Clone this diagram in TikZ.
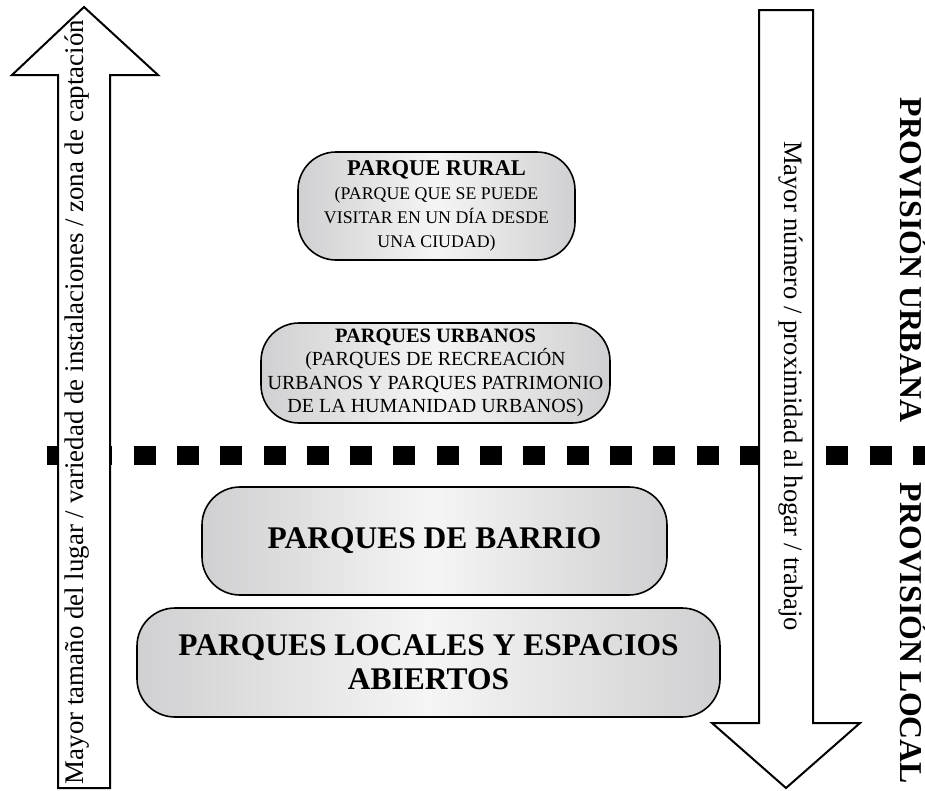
\documentclass[tikz,border=0pt]{standalone}
\usepackage{fontspec}
\setmainfont{Liberation Serif}
\definecolor{boxgray}{RGB}{208,208,210}
\definecolor{boxlight}{RGB}{245,245,245}
\tikzset{
  diagram/.style={x=1pt, y=-1pt},
  arrow-outline/.style={
    line width=2pt,
    draw=black,
    fill=white,
    line join=miter
  },
  park-box/.style={
    draw=black,
    line width=1.6pt,
    rounded corners=38pt,
    left color=boxgray,
    right color=boxgray,
    middle color=boxlight,
    align=center,
    inner sep=0pt
  },
  dash-line/.style={line width=19pt, dash pattern=on 22pt off 21.3pt},
  arrow-text/.style={font=\fontsize{26.6}{30}\selectfont, text height=0.7em, text depth=0.22em, inner sep=0pt},
  side-label/.style={font=\bfseries\fontsize{31.8}{34}\selectfont, rotate=-90, text height=0.66em, text depth=0pt, inner sep=0pt}
}

\begin{document}
\begin{tikzpicture}[diagram]
  \useasboundingbox (0,0) rectangle (925,790);

  % Dividing line
  \coordinate (split-start) at (47,455);
  \coordinate (split-end) at (925,455);
  \draw[dash-line] (split-start) -- (split-end);

  % Up arrow
  \coordinate (U1) at (58,788);
  \coordinate (U2) at (58,75);
  \coordinate (U3) at (12,75);
  \coordinate (U-tip) at (84,7);
  \coordinate (U4) at (158,75);
  \coordinate (U5) at (110,75);
  \coordinate (U6) at (110,788);
  \draw[arrow-outline] (U1) -- (U2) -- (U3) -- (U-tip) -- (U4) -- (U5) -- (U6) -- cycle;

  % Down arrow
  \coordinate (D1) at (759,10);
  \coordinate (D2) at (759,723);
  \coordinate (D3) at (712,723);
  \coordinate (D-tip) at (786,788);
  \coordinate (D4) at (860,723);
  \coordinate (D5) at (813,723);
  \coordinate (D6) at (813,10);
  \draw[arrow-outline] (D1) -- (D2) -- (D3) -- (D-tip) -- (D4) -- (D5) -- (D6) -- cycle;

  % Arrow texts
  \node[arrow-text, rotate=90, font=\fontsize{26.9}{30}\selectfont] (size-text) at (81,402)
    {Mayor tamaño del lugar / variedad de instalaciones / zona de captación};
  \node[arrow-text, rotate=-90] (near-text) at (786.5,386)
    {Mayor número / proximidad al hogar / trabajo};

  % Park boxes
  \node[park-box, minimum width=277pt, minimum height=108pt,
        font=\fontsize{17.8}{24}\selectfont] (rural) at (436.5,206)
    {{\bfseries\fontsize{22.5}{24}\selectfont PARQUE RURAL}\\(PARQUE QUE SE PUEDE\\VISITAR EN UN DÍA DESDE\\UNA CIUDAD)};
  \node[park-box, minimum width=349pt, minimum height=100pt,
        font=\fontsize{20}{23.5}\selectfont] (urban) at (435.5,373)
    {{\bfseries\fontsize{20.4}{23.5}\selectfont PARQUES URBANOS}\\(PARQUES DE RECREACIÓN\\URBANOS Y PARQUES PATRIMONIO\\DE LA HUMANIDAD URBANOS)};
  \node[park-box, minimum width=465pt, minimum height=108pt,
        font=\bfseries\fontsize{31.5}{34}\selectfont] (barrio) at (434.5,541)
    {PARQUES DE BARRIO};
  \node[park-box, minimum width=583pt, minimum height=109pt,
        font=\bfseries\fontsize{31.5}{34}\selectfont] (local) at (428.5,662.5)
    {PARQUES LOCALES Y ESPACIOS\\ABIERTOS};

  % Side labels
  \node[side-label] (urban-label) at (904,260) {PROVISIÓN URBANA};
  \node[side-label] (local-label) at (904,633.5) {PROVISIÓN LOCAL};
\end{tikzpicture}
\end{document}
